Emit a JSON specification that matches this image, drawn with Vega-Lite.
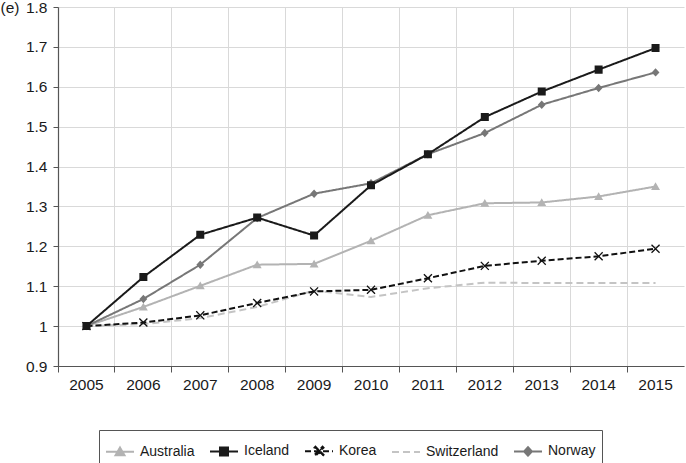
{
  "$schema": "https://vega.github.io/schema/vega-lite/v6.json",
  "width": 626,
  "height": 359,
  "autosize": {"type": "none"},
  "padding": {"left": 58, "top": 7, "right": 2, "bottom": 97},
  "background": "white",
  "config": {
    "view": {"stroke": null},
    "font": "Liberation Sans",
    "axis": {
      "labelFont": "Liberation Sans",
      "labelFontSize": 15.5,
      "labelColor": "#1a1a1a",
      "domainColor": "#555555",
      "tickColor": "#555555",
      "gridColor": "#d9d9d9",
      "gridWidth": 1,
      "tickSize": 5,
      "domainWidth": 1.2
    },
    "legend": {
      "labelFont": "Liberation Sans",
      "labelFontSize": 14,
      "labelColor": "#1a1a1a",
      "symbolStrokeWidth": 2,
      "symbolSize": 784,
      "labelOffset": 5,
      "columnPadding": 11,
      "padding": 6,
      "strokeColor": "#555555",
      "fillColor": "white"
    }
  },
  "data": {
    "values": [
      {"country": "Switzerland", "year": "2005", "value": 1.0},
      {"country": "Switzerland", "year": "2006", "value": 1.005},
      {"country": "Switzerland", "year": "2007", "value": 1.02},
      {"country": "Switzerland", "year": "2008", "value": 1.048},
      {"country": "Switzerland", "year": "2009", "value": 1.089},
      {"country": "Switzerland", "year": "2010", "value": 1.073},
      {"country": "Switzerland", "year": "2011", "value": 1.095},
      {"country": "Switzerland", "year": "2012", "value": 1.109},
      {"country": "Switzerland", "year": "2013", "value": 1.108},
      {"country": "Switzerland", "year": "2014", "value": 1.108},
      {"country": "Switzerland", "year": "2015", "value": 1.108},
      {"country": "Australia", "year": "2005", "value": 1.0},
      {"country": "Australia", "year": "2006", "value": 1.048},
      {"country": "Australia", "year": "2007", "value": 1.101},
      {"country": "Australia", "year": "2008", "value": 1.154},
      {"country": "Australia", "year": "2009", "value": 1.156},
      {"country": "Australia", "year": "2010", "value": 1.214},
      {"country": "Australia", "year": "2011", "value": 1.278},
      {"country": "Australia", "year": "2012", "value": 1.308},
      {"country": "Australia", "year": "2013", "value": 1.31},
      {"country": "Australia", "year": "2014", "value": 1.325},
      {"country": "Australia", "year": "2015", "value": 1.35},
      {"country": "Korea", "year": "2005", "value": 1.0},
      {"country": "Korea", "year": "2006", "value": 1.009},
      {"country": "Korea", "year": "2007", "value": 1.027},
      {"country": "Korea", "year": "2008", "value": 1.058},
      {"country": "Korea", "year": "2009", "value": 1.087},
      {"country": "Korea", "year": "2010", "value": 1.091},
      {"country": "Korea", "year": "2011", "value": 1.12},
      {"country": "Korea", "year": "2012", "value": 1.151},
      {"country": "Korea", "year": "2013", "value": 1.164},
      {"country": "Korea", "year": "2014", "value": 1.175},
      {"country": "Korea", "year": "2015", "value": 1.194},
      {"country": "Norway", "year": "2005", "value": 1.0},
      {"country": "Norway", "year": "2006", "value": 1.068},
      {"country": "Norway", "year": "2007", "value": 1.154},
      {"country": "Norway", "year": "2008", "value": 1.271},
      {"country": "Norway", "year": "2009", "value": 1.332},
      {"country": "Norway", "year": "2010", "value": 1.358},
      {"country": "Norway", "year": "2011", "value": 1.431},
      {"country": "Norway", "year": "2012", "value": 1.484},
      {"country": "Norway", "year": "2013", "value": 1.555},
      {"country": "Norway", "year": "2014", "value": 1.597},
      {"country": "Norway", "year": "2015", "value": 1.636},
      {"country": "Iceland", "year": "2005", "value": 1.0},
      {"country": "Iceland", "year": "2006", "value": 1.123},
      {"country": "Iceland", "year": "2007", "value": 1.229},
      {"country": "Iceland", "year": "2008", "value": 1.272},
      {"country": "Iceland", "year": "2009", "value": 1.227},
      {"country": "Iceland", "year": "2010", "value": 1.353},
      {"country": "Iceland", "year": "2011", "value": 1.431},
      {"country": "Iceland", "year": "2012", "value": 1.524},
      {"country": "Iceland", "year": "2013", "value": 1.588},
      {"country": "Iceland", "year": "2014", "value": 1.643},
      {"country": "Iceland", "year": "2015", "value": 1.697}
    ]
  },
  "encoding": {
    "x": {
      "field": "year",
      "type": "ordinal",
      "scale": {"type": "band", "paddingInner": 0, "paddingOuter": 0},
      "axis": {
        "title": null,
        "labelAngle": 0,
        "bandPosition": 0,
        "grid": true,
        "tickSize": 6,
        "labelPadding": 5
      }
    },
    "y": {
      "field": "value",
      "type": "quantitative",
      "scale": {"domain": [0.9, 1.8], "nice": false, "zero": false},
      "axis": {
        "values": [0.9, 1.0, 1.1, 1.2, 1.3, 1.4, 1.5, 1.6, 1.7, 1.8],
        "format": ".1~f",
        "grid": true,
        "labelPadding": 6,
        "title": "(e)",
        "titleAngle": 0,
        "titleAlign": "left",
        "titleBaseline": "middle",
        "titleX": -58,
        "titleY": 0,
        "titleFontSize": 15.5,
        "titleFontWeight": "normal",
        "titleColor": "#1a1a1a",
        "titleFont": "Liberation Sans"
      }
    },
    "color": {
      "field": "country",
      "type": "nominal",
      "scale": {
        "domain": ["Australia", "Iceland", "Korea", "Switzerland", "Norway"],
        "range": ["#b3b3b3", "#1a1a1a", "#111111", "#c4c4c4", "#777777"]
      },
      "legend": {
        "title": null,
        "orient": "none",
        "direction": "horizontal",
        "columns": 5,
        "legendX": 41,
        "legendY": 423
      }
    }
  },
  "layer": [
    {
      "mark": {"type": "line", "strokeWidth": 2},
      "encoding": {
        "strokeDash": {
          "field": "country",
          "type": "nominal",
          "scale": {
            "domain": ["Australia", "Iceland", "Korea", "Switzerland", "Norway"],
            "range": [[1, 0], [1, 0], [6, 3], [7, 4], [1, 0]]
          },
          "legend": {
            "title": null,
            "orient": "none",
            "direction": "horizontal",
            "columns": 5,
            "legendX": 41,
            "legendY": 423
          }
        }
      }
    },
    {
      "mark": {"type": "point", "filled": true, "opacity": 1, "size": 784, "strokeWidth": 0},
      "encoding": {
        "shape": {
          "field": "country",
          "type": "nominal",
          "scale": {
            "domain": ["Australia", "Iceland", "Korea", "Switzerland", "Norway"],
            "range": [
              "M-1,0H1M0,-0.3L0.32,0.25H-0.32Z",
              "M-1,0H1M-0.286,-0.286H0.286V0.286H-0.286Z",
              "M-1,0H1M-0.32,-0.254L-0.254,-0.32L0,-0.066L0.254,-0.32L0.32,-0.254L0.066,0L0.32,0.254L0.254,0.32L0,0.066L-0.254,0.32L-0.32,0.254L-0.066,0Z",
              "M-1,0H1",
              "M-1,0H1M0,-0.3L0.28,0L0,0.3L-0.28,0Z"
            ]
          },
          "legend": {
            "title": null,
            "orient": "none",
            "direction": "horizontal",
            "columns": 5,
            "legendX": 41,
            "legendY": 423
          }
        }
      }
    }
  ]
}
